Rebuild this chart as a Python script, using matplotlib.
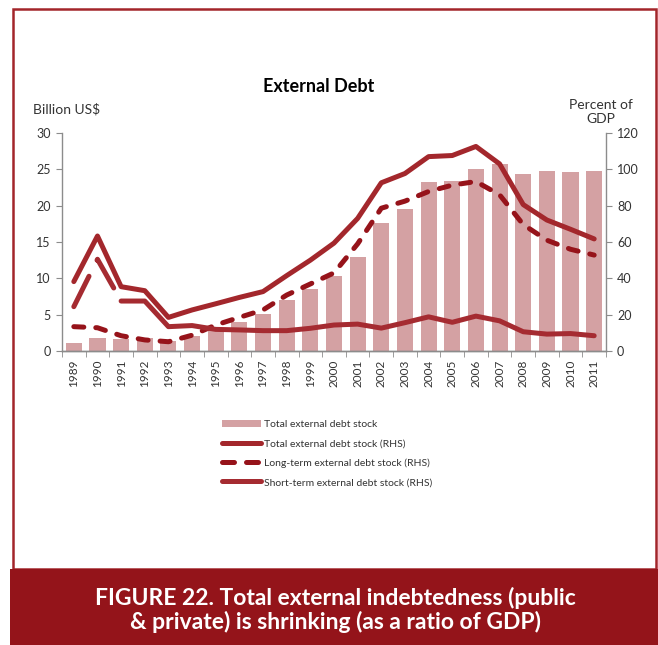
import matplotlib.pyplot as plt
from matplotlib.patches import Rectangle
from matplotlib.lines import Line2D
from matplotlib.patches import Patch

# Datos
years = [str(y) for y in range(1989, 2012)]
debt_bn = [1.05, 1.8, 1.6, 1.8, 1.4, 2.1, 3.0, 4.0, 5.1, 7.0, 8.5, 10.3,
           13.0, 17.6, 19.5, 23.2, 23.4, 25.1, 25.7, 24.4, 24.8, 24.6, 24.8]
total_pct = [38.2, 63.3, 35.4, 33.2, 18.5, 22.6, 26.0, 29.5, 32.7, 41.5,
             50.0, 59.4, 73.0, 92.6, 97.7, 107.0, 107.6, 112.6, 103.0,
             80.6, 72.1, 67.0, 61.7]
long_pct = [13.4, 12.8, 8.4, 6.1, 5.1, 8.7, 14.3, 18.5, 22.6, 30.8, 36.9,
            43.0, 59.0, 78.6, 82.5, 87.8, 91.3, 93.3, 86.0, 69.6, 61.0,
            56.0, 52.8]
short_pct = [24.4, 50.5, 27.5, 27.5, 13.4, 14.0, 11.9, 11.6, 11.2, 11.2,
             12.5, 14.3, 14.8, 12.6, 15.6, 18.8, 15.8, 19.2, 16.6, 10.6,
             9.3, 9.6, 8.4]

red_total = '#a3272c'
red_long = '#96131a'
red_short = '#a52b31'
bar_col = '#d4a1a3'
frame_col = '#a3252a'
band_col = '#94141a'
grey = '#8c8c8c'
txt = '#333333'

plt.rcParams['font.family'] = ['Lato', 'DejaVu Sans']

W, H = 658, 645
fig = plt.figure(figsize=(W / 100, H / 100), dpi=100)

# Marco y banda del título inferior
fig.patches.append(Rectangle((13 / W, 1 - 569 / H), 643 / W, 560 / H,
                             transform=fig.transFigure, fill=False,
                             edgecolor=frame_col, linewidth=1.8))
fig.patches.append(Rectangle((10 / W, 0), 648 / W, 76 / H,
                             transform=fig.transFigure, facecolor=band_col,
                             edgecolor='none'))

ax = fig.add_axes([62 / W, 1 - 351 / H, 544 / W, 218 / H])
ax2 = ax.twinx()

x = list(range(len(years)))
ax.bar(x, debt_bn, width=0.68, color=bar_col, zorder=2)

lw = 3.6
ax2.plot(x, total_pct, color=red_total, lw=lw, solid_capstyle='round',
         solid_joinstyle='round')
ax2.plot(x, long_pct, color=red_long, lw=lw, dashes=(2.0, 2.4),
         dash_capstyle='round', dash_joinstyle='round')
ax2.plot(x[:3], short_pct[:3], color=red_short, lw=lw, dashes=(6.8, 3.6),
         dash_capstyle='round', dash_joinstyle='round')
ax2.plot(x[2:], short_pct[2:], color=red_short, lw=lw,
         solid_capstyle='round', solid_joinstyle='round')

ax.set_xlim(-0.5, len(years) - 0.5)
ax.set_ylim(0, 30)
ax2.set_ylim(0, 120)
ax.set_yticks(range(0, 31, 5))
ax2.set_yticks(range(0, 121, 20))

ax.set_xticks(x)
ax.set_xticklabels(years, rotation=90, fontsize=8.5, color=txt)
ax.set_xticks([i - 0.5 for i in range(len(years) + 1)], minor=True)
ax.tick_params(axis='x', which='major', length=0, pad=6)
ax.tick_params(axis='x', which='minor', length=4, color=grey, direction='out')
ax.tick_params(axis='y', length=4, color=grey, labelsize=9, labelcolor=txt,
               pad=4)
ax2.tick_params(axis='y', length=4, color=grey, labelsize=9, labelcolor=txt,
                pad=4)

for a in (ax, ax2):
    a.spines['top'].set_visible(False)
    for s in ('left', 'right', 'bottom'):
        a.spines[s].set_color(grey)
        a.spines[s].set_linewidth(1)
ax.spines['right'].set_visible(False)
ax2.spines['left'].set_visible(False)

fig.text(319 / W, 1 - 86 / H, 'External Debt', ha='center', va='center',
         fontsize=13, fontweight='bold', color='black')
fig.text(33 / W, 1 - 109 / H, 'Billion US$', ha='left', va='center',
         fontsize=10, color=txt)
fig.text(601 / W, 1 - 112 / H, 'Percent of\nGDP', ha='center', va='center',
         fontsize=10, color=txt, linespacing=1.2)

handles = [
    Patch(facecolor=bar_col, edgecolor='none'),
    Line2D([], [], color=red_total, lw=lw, solid_capstyle='round'),
    Line2D([], [], color=red_long, lw=lw, dashes=(2.4, 2.4),
           dash_capstyle='round'),
    Line2D([], [], color=red_short, lw=lw, solid_capstyle='round'),
]
labels = ['Total external debt stock', 'Total external debt stock (RHS)',
          'Long-term external debt stock (RHS)',
          'Short-term external debt stock (RHS)']
fig.legend(handles, labels, loc='upper left',
           bbox_to_anchor=(222 / W, 1 - 420 / H), frameon=False,
           fontsize=7.5, handlelength=3.7, handletextpad=0.3,
           labelspacing=0.95, borderpad=0, borderaxespad=0,
           labelcolor=txt)

fig.text(335 / W, 1 - 610 / H,
         'FIGURE 22. Total external indebtedness (public\n'
         '& private) is shrinking (as a ratio of GDP)',
         ha='center', va='center', fontsize=16.5, fontweight='bold',
         color='white', linespacing=1.1)

fig.savefig('out.png', dpi=100)
